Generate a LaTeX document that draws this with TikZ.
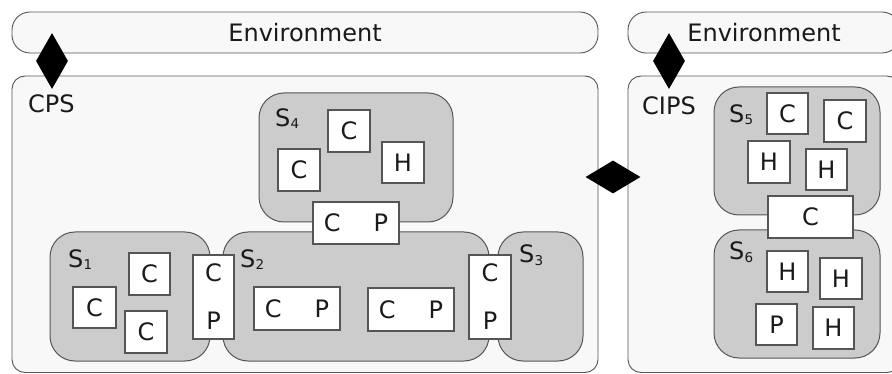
\documentclass[tikz,border=0pt]{standalone}
\usepackage{fontspec}
\setmainfont{DejaVu Sans}
\usetikzlibrary{shapes.geometric}
\definecolor{outerfill}{HTML}{F8F8F8}
\definecolor{grayfill}{HTML}{CCCCCC}
\definecolor{edge}{HTML}{555555}
\definecolor{ink}{HTML}{1A1A1A}
\newcommand{\Ssub}[1]{S\kern0.3pt\raisebox{-2pt}{\fontsize{13.5}{13.5}\selectfont #1}}
\begin{document}
\begin{tikzpicture}[x=1pt,y=-1pt,
  envbox/.style={draw=edge, fill=outerfill, line width=0.9pt, rounded corners=18pt, inner sep=0pt,
    text=ink, font=\fontsize{24}{28}\selectfont},
  outerbox/.style={draw=edge, fill=outerfill, line width=0.9pt, rounded corners=13pt, inner sep=0pt},
  subbox/.style={draw=edge, fill=grayfill, line width=1pt, rounded corners=25pt, inner sep=0pt},
  part/.style={draw=edge, fill=white, line width=1.2pt, inner sep=0pt,
    font=\fontsize{24}{48}\selectfont, text=ink, align=center},
  lbl/.style={inner sep=0pt, anchor=base west, font=\fontsize{24}{28}\selectfont, text=ink},
  vlink/.style={diamond, fill=black, inner sep=0pt, minimum width=32pt, minimum height=56pt},
  hlink/.style={diamond, fill=black, inner sep=0pt, minimum width=55pt, minimum height=33pt},
  sz/.style 2 args={minimum width=#1pt, minimum height=#2pt}]
\useasboundingbox (0,0) rectangle (892,374);
\clip (0,0) rectangle (892,374);
\fill[white] (0,0) rectangle (892,374);
% environments
\node[envbox, sz={586}{41}] (env1) at (305,32.5) {Environment};
\node[envbox, sz={272}{41}] (env2) at (764,32.5) {Environment};
% systems
\node[outerbox, sz={586}{296.5}] (cps) at (305,224.25) {};
\node[outerbox, sz={272}{296.5}] (cips) at (764,224.25) {};
\node[lbl] (cpslbl) at (28,113) {CPS};
\node[lbl] (cipslbl) at (642,115) {CIPS};
% interfaces
\node[vlink] (d1) at (52,61) {};
\node[vlink] (d2) at (669,61) {};
\node[hlink] (d3) at (613,177) {};
% subsystems
\node[subbox, sz={194}{129}] (s4) at (356,157.5) {};
\node[subbox, sz={160}{129}] (s1) at (130,296.5) {};
\node[subbox, sz={266}{129}] (s2) at (356,296.5) {};
\node[subbox, sz={85}{129}] (s3) at (540.5,296.5) {};
\node[subbox, sz={166}{128}] (s5) at (797,151) {};
\node[subbox, sz={166}{128}] (s6) at (797,294) {};
\node[lbl] (s4lbl) at (275,127) {\Ssub{4}};
\node[lbl] (s1lbl) at (68,268) {\Ssub{1}};
\node[lbl] (s2lbl) at (240,268) {\Ssub{2}};
\node[lbl] (s3lbl) at (519,263) {\Ssub{3}};
\node[lbl] (s5lbl) at (729,123) {\Ssub{5}};
\node[lbl] (s6lbl) at (729,260) {\Ssub{6}};
% S4 parts
\node[part, sz={42}{42}] (s4c1) at (349,131) {C};
\node[part, sz={42}{42}] (s4c2) at (299,170) {C};
\node[part, sz={42}{41}] (s4h) at (403,162.5) {H};
\node[part, sz={86}{42}] (s4cp) at (356,223) {C\hspace{33pt}P};
% S1 parts
\node[part, sz={41}{42}] (s1c1) at (149.5,274) {C};
\node[part, sz={43}{41}] (s1c2) at (94.5,307.5) {C};
\node[part, sz={42}{42}] (s1c3) at (146,332) {C};
\node[part, sz={41}{84}] (cp12) at (213.5,297) {C\\P};
% S2 parts
\node[part, sz={86}{43}] (s2cp1) at (297,308.5) {C\hspace{33pt}P};
\node[part, sz={86}{43}] (s2cp2) at (411,309.5) {C\hspace{33pt}P};
\node[part, sz={42}{84}] (cp23) at (490,297) {C\\P};
% S5 parts
\node[part, sz={41}{41}] (s5c1) at (787.5,113.5) {C};
\node[part, sz={42}{42}] (s5c2) at (845,121) {C};
\node[part, sz={42}{42}] (s5h1) at (769,162) {H};
\node[part, sz={41}{41}] (s5h2) at (826.5,169.5) {H};
\node[part, sz={85}{42}] (c56) at (810.5,217) {C};
% S6 parts
\node[part, sz={41}{41}] (s6h1) at (787.5,271.5) {H};
\node[part, sz={42}{41}] (s6h2) at (841,278.5) {H};
\node[part, sz={41}{41}] (s6p) at (776.5,324.5) {P};
\node[part, sz={41}{42}] (s6h3) at (833.5,328) {H};
\end{tikzpicture}
\end{document}
